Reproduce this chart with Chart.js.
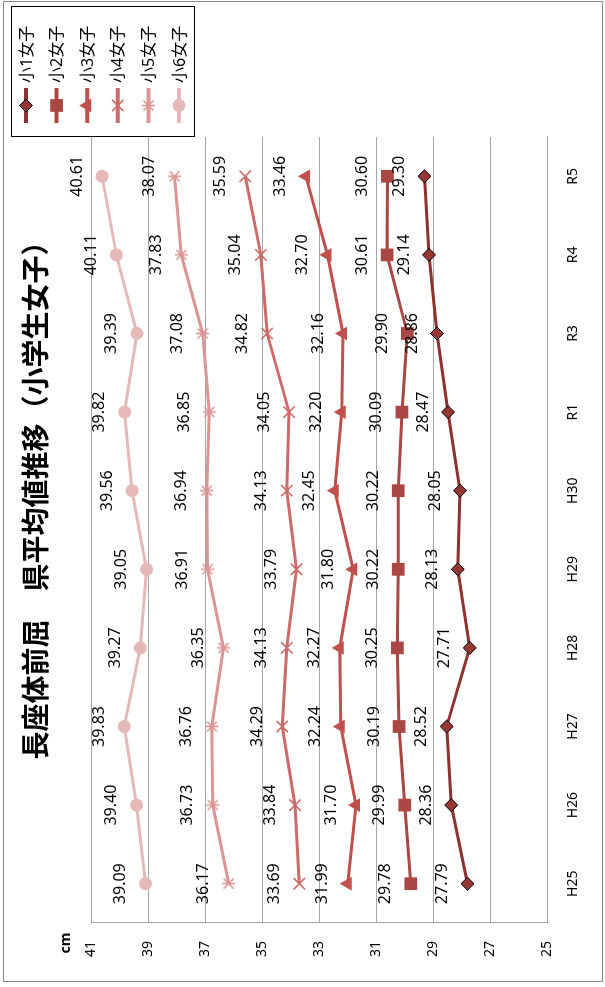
<!DOCTYPE html>
<html>
<head>
<meta charset="utf-8">
<script src="https://cdn.jsdelivr.net/npm/chart.js"></script>
<style>
  html, body { margin: 0; padding: 0; background: #fff; overflow: hidden; }
  /* the chart is drawn landscape and turned a quarter turn to the left */
  #wrap {
    position: absolute; left: 0; top: 0;
    width: 987px; height: 605px;
    transform-origin: 0 0;
    transform: translate(0, 987px) rotate(-90deg);
  }
</style>
</head>
<body>
<div id="wrap"><canvas id="chart"></canvas></div>
<script>
// data
const categories = ['H25', 'H26', 'H27', 'H28', 'H29', 'H30', 'R1', 'R3', 'R4', 'R5'];
const seriesNames = ['小1女子', '小2女子', '小3女子', '小4女子', '小5女子', '小6女子'];
const grade1 = [27.79, 28.36, 28.52, 27.71, 28.13, 28.05, 28.47, 28.86, 29.14, 29.30];
const grade2 = [29.78, 29.99, 30.19, 30.25, 30.22, 30.22, 30.09, 29.90, 30.61, 30.60];
const grade3 = [31.99, 31.70, 32.24, 32.27, 31.80, 32.45, 32.20, 32.16, 32.70, 33.46];
const grade4 = [33.69, 33.84, 34.29, 34.13, 33.79, 34.13, 34.05, 34.82, 35.04, 35.59];
const grade5 = [36.17, 36.73, 36.76, 36.35, 36.91, 36.94, 36.85, 37.08, 37.83, 38.07];
const grade6 = [39.09, 39.40, 39.83, 39.27, 39.05, 39.56, 39.82, 39.39, 40.11, 40.61];
const yMin = 25, yMax = 41, yStep = 2;
const titleText = '長座体前屈　県平均値推移（小学生女子）';
const unitText = 'cm';

const FONT = '"Noto Sans", "Noto Sans CJK JP", sans-serif';
const colors = ['#8C3330', '#AA4643', '#C0504D', '#CC6B69', '#D99694', '#E4B9B8'];

// Excel style star marker: an x with a vertical bar
function makeStar(color) {
  const c = document.createElement('canvas');
  c.width = 15; c.height = 15;
  const g = c.getContext('2d');
  g.strokeStyle = color;
  g.lineWidth = 1.6;
  g.beginPath();
  g.moveTo(2.5, 2.5); g.lineTo(12.5, 12.5);
  g.moveTo(12.5, 2.5); g.lineTo(2.5, 12.5);
  g.moveTo(7.5, 1); g.lineTo(7.5, 14);
  g.stroke();
  return c;
}

const markers = [
  { style: 'rectRot', radius: 6.5, fill: '#953735', border: '#000', bw: 1 },
  { style: 'rect', radius: 9, fill: colors[1], border: colors[1], bw: 0 },
  { style: 'triangle', radius: 8, fill: colors[2], border: colors[2], bw: 0 },
  { style: 'crossRot', radius: 8, fill: colors[3], border: colors[3], bw: 1.6 },
  { style: makeStar(colors[4]), radius: 7, fill: colors[4], border: colors[4], bw: 1.6 },
  { style: 'circle', radius: 6.5, fill: colors[5], border: colors[5], bw: 0 }
];

const allSeries = [grade1, grade2, grade3, grade4, grade5, grade6];
const datasets = allSeries.map((vals, i) => ({
  label: seriesNames[i],
  data: vals,
  borderColor: colors[i],
  borderWidth: 3,
  tension: 0,
  fill: false,
  pointStyle: markers[i].style,
  pointRadius: markers[i].radius,
  pointHoverRadius: markers[i].radius,
  pointBackgroundColor: markers[i].fill,
  pointBorderColor: markers[i].border,
  pointBorderWidth: markers[i].bw
}));

function drawMarker(ctx, m, x, y) {
  ctx.save();
  ctx.fillStyle = m.fill;
  ctx.strokeStyle = m.border;
  ctx.lineWidth = m.bw;
  if (Chart.helpers && Chart.helpers.drawPoint) {
    Chart.helpers.drawPoint(ctx, { pointStyle: m.style, radius: m.radius, borderWidth: m.bw, rotation: 0 }, x, y);
  } else if (typeof m.style === 'object') {
    ctx.drawImage(m.style, x - m.style.width / 2, y - m.style.height / 2);
  } else {
    ctx.beginPath();
    ctx.arc(x, y, m.radius, 0, Math.PI * 2);
    ctx.fill();
  }
  ctx.restore();
}

const decor = {
  id: 'decor',
  beforeDraw(chart) {
    const ctx = chart.ctx;
    ctx.save();
    ctx.fillStyle = '#fff';
    ctx.fillRect(0, 0, chart.width, chart.height);
    ctx.strokeStyle = '#8c8c8c';
    ctx.lineWidth = 1;
    ctx.strokeRect(5.5, 3.5, 980, 599);
    ctx.restore();
  },
  afterDatasetsDraw(chart) {
    // value labels above each point
    const ctx = chart.ctx;
    ctx.save();
    ctx.font = '16px ' + FONT;
    ctx.fillStyle = '#000';
    ctx.textAlign = 'center';
    ctx.textBaseline = 'middle';
    chart.data.datasets.forEach((ds, i) => {
      chart.getDatasetMeta(i).data.forEach((pt, j) => {
        ctx.fillText(ds.data[j].toFixed(2), pt.x, pt.y - 25);
      });
    });
    ctx.restore();
  },
  afterDraw(chart) {
    const ctx = chart.ctx;
    ctx.save();
    // title
    ctx.fillStyle = '#000';
    ctx.textAlign = 'center';
    ctx.textBaseline = 'middle';
    ctx.font = 'bold 28px ' + FONT;
    ctx.fillText(titleText, chart.width / 2, 38);
    // unit
    ctx.font = 'bold 14px ' + FONT;
    ctx.fillText(unitText, 44, 66);
    // legend
    ctx.strokeStyle = '#000';
    ctx.lineWidth = 1;
    ctx.strokeRect(850.5, 11.5, 130, 183);
    ctx.font = '16px ' + FONT;
    ctx.textAlign = 'left';
    seriesNames.forEach((name, i) => {
      const y = 26 + i * 30.6;
      ctx.strokeStyle = colors[i];
      ctx.lineWidth = 4;
      ctx.beginPath();
      ctx.moveTo(864, y);
      ctx.lineTo(899, y);
      ctx.stroke();
      drawMarker(ctx, markers[i], 881.5, y);
      ctx.fillStyle = '#000';
      ctx.fillText(name, 904, y + 1);
    });
    ctx.restore();
  }
};

new Chart(document.getElementById('chart'), {
  type: 'line',
  data: { labels: categories, datasets: datasets },
  options: {
    responsive: true,
    maintainAspectRatio: false,
    animation: false,
    layout: { padding: { left: 0, right: 137, top: 91, bottom: 0 } },
    plugins: {
      legend: { display: false },
      title: { display: false },
      tooltip: { enabled: false }
    },
    scales: {
      x: {
        offset: true,
        grid: { display: false, drawTicks: false },
        border: { display: true, color: '#a6a6a6', width: 1 },
        ticks: { color: '#000', font: { size: 14, family: FONT }, padding: 18, maxRotation: 0 },
        afterFit: s => { s.height = 58; }
      },
      y: {
        min: yMin,
        max: yMax,
        grid: { color: '#a6a6a6', lineWidth: 1, drawTicks: false },
        border: { display: true, color: '#a6a6a6', width: 1 },
        ticks: { stepSize: yStep, color: '#000', font: { size: 14, family: FONT }, padding: 18 },
        afterFit: s => { s.width = 64; }
      }
    }
  },
  plugins: [decor]
});
</script>
</body>
</html>
